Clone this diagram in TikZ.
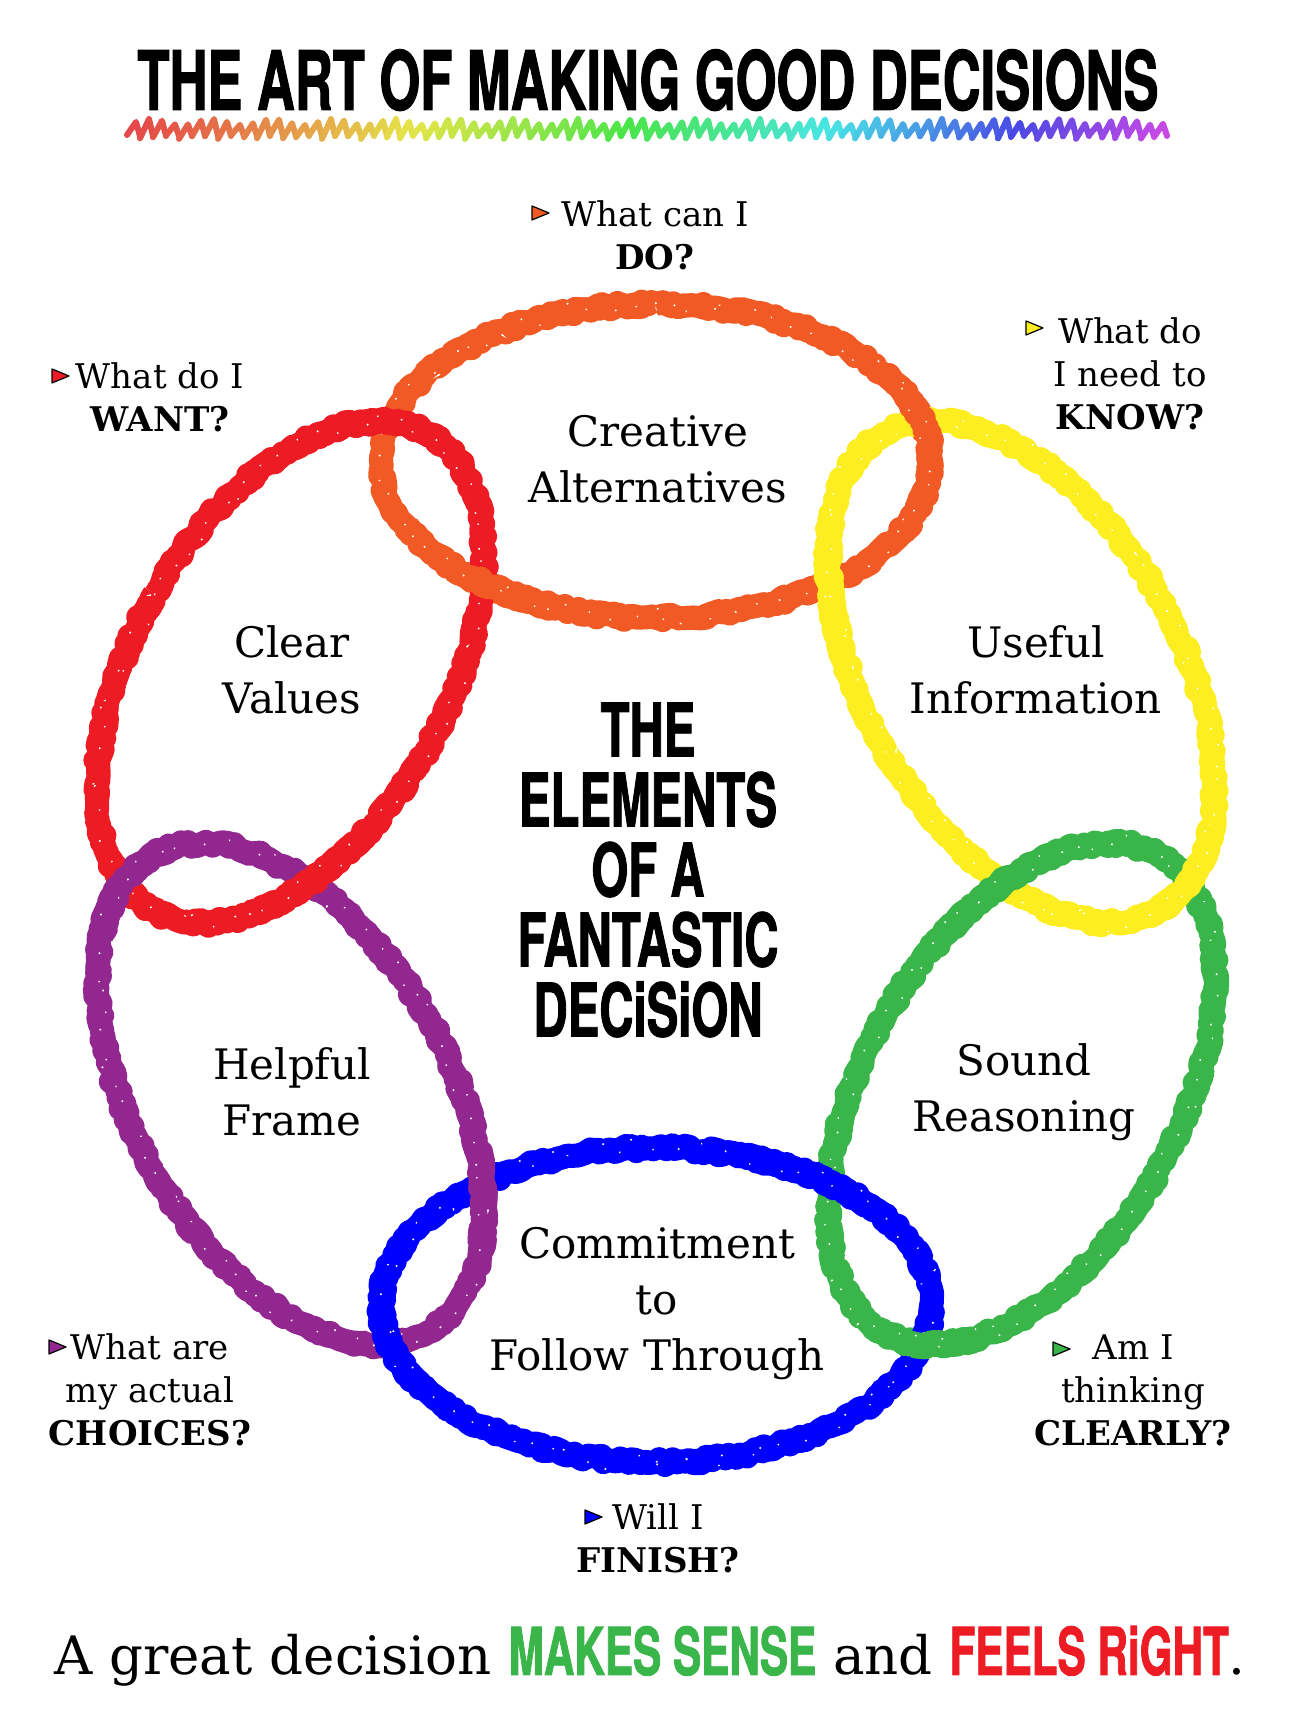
\documentclass[tikz,border=0pt]{standalone}
\usepackage{fontspec}
\setmainfont{DejaVu Serif}
\newfontfamily\condfont[FakeStretch=0.64, FakeBold=1.2]{TeX Gyre Heros}
\usetikzlibrary{decorations.pathmorphing}
\definecolor{cOrange}{RGB}{241,90,36}
\definecolor{cRed}{RGB}{237,28,36}
\definecolor{cYellow}{RGB}{252,238,33}
\definecolor{cGreen}{RGB}{57,181,74}
\definecolor{cBlue}{RGB}{0,0,255}
\definecolor{cPurple}{RGB}{146,39,143}
\tikzset{
  rough/.style={draw=#1, line width=12pt, line join=round, decorate, decoration={random steps, segment length=2pt, amplitude=1.6pt}},
  crayon core/.style={draw=#1, line width=10.5pt, line join=round, decorate, decoration={random steps, segment length=4pt, amplitude=0.8pt}},
  specks/.style={draw=white, line width=0.8pt, dash pattern=on 0.8pt off 29pt on 0.6pt off 17pt, decorate, decoration={random steps, segment length=2.5pt, amplitude=5pt}},
  question/.style={align=center, inner sep=0pt, font=\fontsize{17}{21.5}\selectfont},
  element/.style={align=center, inner sep=0pt, font=\fontsize{21}{28}\selectfont},
  poster/.style={inner sep=0pt, font=\condfont\bfseries\fontsize{41}{40}\selectfont},
}
\def\crayon#1#2{\draw[rough=#1] #2; \draw[crayon core=#1] #2; \draw[specks] #2;}
\def\pointer(#1,#2)#3{\filldraw[fill=#3, draw=black, line width=0.6pt, line join=round] (#1-8,#2-7) -- (#1+9,#2) -- (#1-8,#2+7) -- cycle;}

\begin{document}
\begin{tikzpicture}[x=0.5pt, y=0.5pt]
	%%%%% START %%%%%
	\pgfmathsetseed{42}
	\fill[white] (0,0) rectangle (1296,1728);
	\useasboundingbox (0,0) rectangle (1296,1728);
	
	\node[poster, anchor=base] (title) at (648,1618) {THE ART OF MAKING GOOD DECISIONS};
	\foreach \i in {0,...,79}{
		\pgfmathsetmacro{\hue}{0.8*(\i/79)^1.2}
		\definecolor{zig}{hsb}{\hue,0.68,0.9}
		\draw[zig, line width=3pt, line cap=round, line join=round] (127+13*\i,{1591+2*cos(\i*131)}) -- (136+13*\i,{1606+3*sin(\i*77)}) -- (140+13*\i,1592);
	}
	
	% ring of links
	\begin{scope}[shift={(656,845)}]
		\foreach \ang/\col in {90/cOrange, 30/cYellow, -30/cGreen, -90/cBlue, -150/cPurple, 150/cRed}{
			\begin{scope}[shift={(\ang:422)}, rotate=\ang]
				\crayon{\col}{(0,0) ellipse [x radius=157, y radius=275]}
			\end{scope}
		}
		% over crossings
		\foreach \ang/\col in {90/cOrange, 30/cYellow, -30/cGreen, -90/cBlue, -150/cPurple, 150/cRed}{
			\begin{scope}[shift={(\ang:422)}, rotate=\ang]
				\crayon{\col}{(266:157 and 275) arc[start angle=266, end angle=303, x radius=157, y radius=275]}
				\crayon{\col}{(123:157 and 275) arc[start angle=123, end angle=159, x radius=157, y radius=275]}
			\end{scope}
		}
	\end{scope}
	
	\node[element] (creative) at (658,1269) {Creative\\Alternatives};
	\node[element] (useful) at (1036,1058) {Useful\\Information};
	\node[element] (sound) at (1024,636) {Sound\\Reasoning};
	\node[element] (commit) at (657,424) {Commitment\\to\\Follow Through};
	\node[element] (helpful) at (292,636) {Helpful\\Frame};
	\node[element] (clear) at (292,1058) {Clear\\Values};
	
	\node[poster, align=center, font=\condfont\bfseries\fontsize{37}{35}\selectfont] (elements) at (648,858) {THE\\ELEMENTS\\OF A\\FANTASTIC\\DECiSiON};
	
	\node[question] (do) at (655,1493) {What can I\\\textbf{DO?}};
	\pointer(540,1515){cOrange}
	\node[question] (want) at (160,1331) {What do I\\\textbf{WANT?}};
	\pointer(60,1352){cRed}
	\node[question] (know) at (1130,1354) {What do\\I need to\\\textbf{KNOW?}};
	\pointer(1034,1400){cYellow}
	\node[question] (clearly) at (1133,338) {Am I\\thinking\\\textbf{CLEARLY?}};
	\pointer(1061,379){cGreen}
	\node[question] (choices) at (150,338) {What are\\my actual\\\textbf{CHOICES?}};
	\pointer(57,381){cPurple}
	\node[question] (finish) at (658,190) {Will I\\\textbf{FINISH?}};
	\pointer(593,211){cBlue}
	
	\node[anchor=base, inner sep=0pt, font=\fontsize{26.5}{30}\selectfont] (motto) at (650,53) {A great decision {\condfont\bfseries\fontsize{33}{30}\selectfont\color{cGreen}MAKES SENSE} and {\condfont\bfseries\fontsize{33}{30}\selectfont\color{cRed}FEELS RiGHT}.};
	%%%%% END %%%%%
\end{tikzpicture}
\end{document}
